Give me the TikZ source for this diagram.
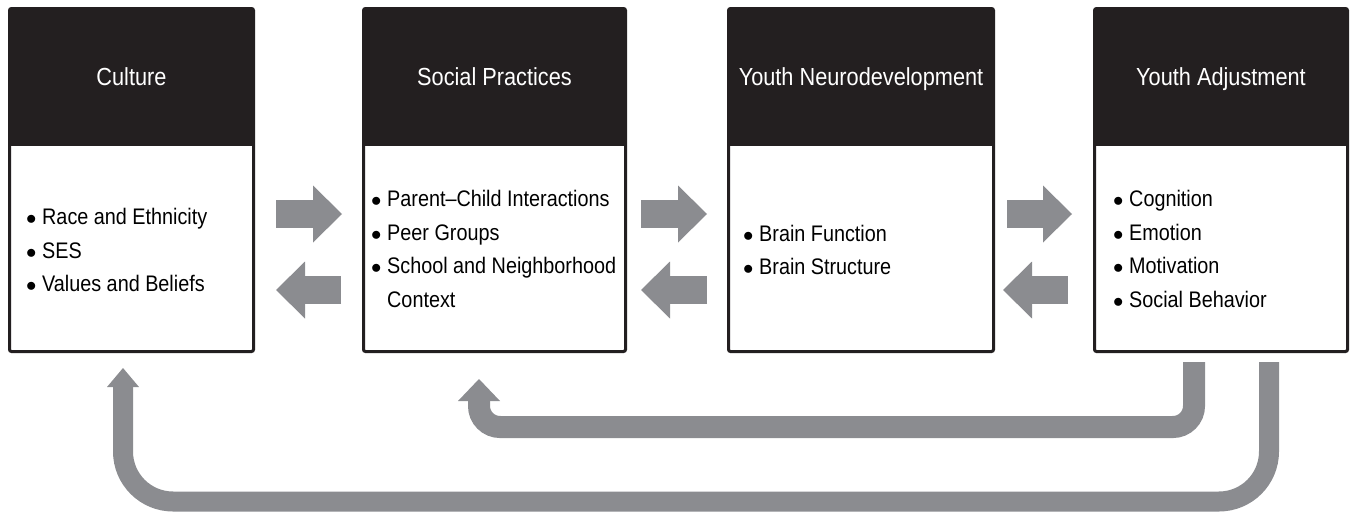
\documentclass[tikz,border=0pt]{standalone}
\usepackage{fontspec}
\setmainfont{Liberation Sans}[FakeStretch=0.88]
\usetikzlibrary{arrows.meta,calc}
\definecolor{hdr}{RGB}{35,31,32}
\definecolor{arr}{RGB}{139,140,144}
\newcommand{\bul}{\makebox[16pt][l]{$\bullet$}}
\newcommand{\nobul}{\makebox[16pt][l]{}}
\begin{document}
\begin{tikzpicture}[x=1pt,y=-1pt,
  box/.style={draw=hdr, line width=3pt, fill=white, rounded corners=2pt,
    minimum width=#1, minimum height=343pt, anchor=north west, inner sep=0pt, outer sep=0pt},
  hbox/.style={fill=hdr, text=white, minimum width=#1, minimum height=137.5pt,
    anchor=north west, inner sep=0pt, outer sep=0pt, text height=18pt, text depth=2.5pt,
    font=\fontsize{24.7pt}{28pt}\selectfont},
  body/.style={anchor=west, align=left, inner sep=0pt,
    font=\fontsize{22.5pt}{33.5pt}\selectfont},
  blk/.style={draw=arr, line width=28pt, -{Triangle[length=29pt,width=57pt,line width=0pt]}},
  bigloop/.style={draw=arr, line width=20pt, rounded corners=50pt,
    -{Triangle[length=19pt,width=32pt,line width=0pt]}},
  smallloop/.style={draw=arr, line width=22pt, rounded corners=21pt,
    -{Triangle[length=22pt,width=42pt,line width=0pt]}}
]
\useasboundingbox (0,0) rectangle (1353,514);

% boxes
\node[box=244pt] (b1) at (9.5,8.5) {};
\node[box=262pt] (b2) at (363.5,8.5) {};
\node[box=265pt] (b3) at (728.5,8.5) {};
\node[box=253pt] (b4) at (1094.5,8.5) {};

% headers
\node[hbox=244pt] (h1) at (b1.north west) {Culture};
\node[hbox=262pt] (h2) at (b2.north west) {Social Practices};
\node[hbox=265pt] (h3) at (b3.north west) {Youth Neurodevelopment};
\node[hbox=253pt] (h4) at (b4.north west) {Youth Adjustment};

% body texts
\node[body] (t1) at (26,250) {\bul Race and Ethnicity\\ \bul SES\\ \bul Values and Beliefs};
\node[body] (t2) at (371,249) {\bul Parent–Child Interactions\\ \bul Peer Groups\\ \bul School and Neighborhood\\ \nobul Context};
\node[body] (t3) at (743,250) {\bul Brain Function\\ \bul Brain Structure};
\node[body] (t4) at (1113,249) {\bul Cognition\\ \bul Emotion\\ \bul Motivation\\ \bul Social Behavior};

% block arrows between boxes
\draw[blk] ($(b1.east)+(22.5,34)$) -- ($(b2.west)+(-21.5,34)$);
\draw[blk] ($(b2.west)+(-22.5,110)$) -- ($(b1.east)+(22.5,110)$);
\draw[blk] ($(b2.east)+(15.5,34)$) -- ($(b3.west)+(-21.5,34)$);
\draw[blk] ($(b3.west)+(-21.5,110)$) -- ($(b2.east)+(15.5,110)$);
\draw[blk] ($(b3.east)+(13.5,34)$) -- ($(b4.west)+(-22.5,34)$);
\draw[blk] ($(b4.west)+(-26.5,110)$) -- ($(b3.east)+(9.5,110)$);

% feedback loops
\coordinate (bigS) at ($(b4.south west)+(174.5,10.5)$);
\coordinate (bigE) at ($(b1.south west)+(113.5,16.5)$);
\coordinate (smS) at ($(b4.south west)+(99.5,10.5)$);
\coordinate (smE) at ($(b2.south west)+(115.5,27.5)$);
\draw[bigloop] (bigS) -- ++(0,139.5) -| (bigE);
\draw[smallloop] (smS) -- ++(0,65) -| (smE);
\end{tikzpicture}
\end{document}
